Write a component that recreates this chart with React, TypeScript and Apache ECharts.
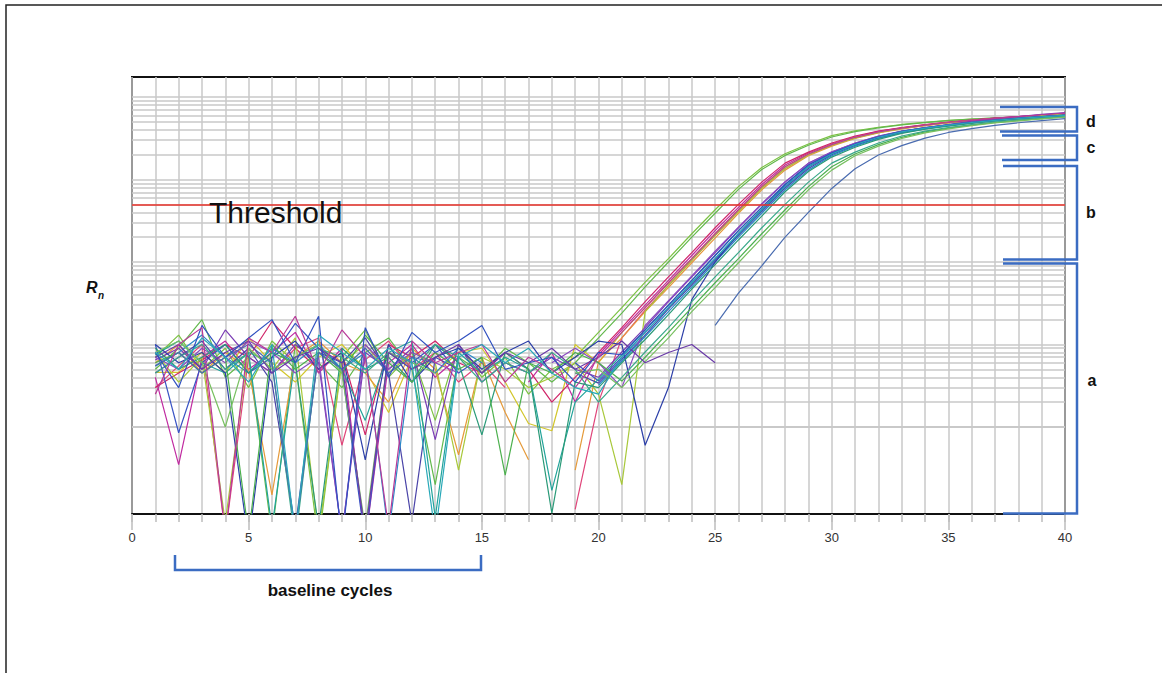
import React, { useEffect, useRef } from "react";
import * as echarts from "echarts";

// ---- data ----
const cycles = [1, 2, 3, 4, 5, 6, 7, 8, 9, 10, 11, 12, 13, 14, 15, 16, 17, 18, 19, 20,
  21, 22, 23, 24, 25, 26, 27, 28, 29, 30, 31, 32, 33, 34, 35, 36, 37, 38, 39, 40];
const xTickLabels = ["0", "5", "10", "15", "20", "25", "30", "35", "40"];
const gridDecades = [0.001, 0.01, 0.1, 1, 10, 100];
const gridMultipliers = [1, 2, 3, 4, 5, 6, 7, 8, 9];
const thresholdValue = 5;
const Y_MIN = 0.00088;
const Y_MAX = 175;
const N = null;

const well01 = [0.07, 0.13, 0.05, 0.09, 0.03, 0.11, 0.06, 0.0004, 0.07, 0.15, 0.04, 0.08, 0.012, 0.1, 0.04, 0.07, 0.025, 0.05,
  0.07, 0.14, 0.28, 0.57, 1.1, 2.2, 4.3, 8.2, 14, 20.5, 27, 34, 39, 43, 46.5, 49.5, 52, 54, 55.5, 56.5, 57.5, 58];
const well02 = [0.05, 0.09, 0.2, 0.04, 0.07, 0.0005, 0.1, 0.06, 0.03, 0.08, 0.12, 0.05, 0.002, 0.07, 0.045, 0.09, 0.06, 0.035,
  0.06, 0.12, 0.24, 0.5, 1.0, 2.0, 3.9, 7.6, 13.2, 19.6, 26, 32.8, 38, 42.3, 46, 49, 51.8, 54, 55.8, 57, 58, 59];
const well03 = [0.04, 0.0035, 0.07, 0.11, 0.05, 0.08, 0.14, 0.045, 0.09, 0.0004, 0.06, 0.1, 0.04, 0.07, N, N, 0.035, 0.08, 0.02,
  0.075, 0.15, 0.3, 0.6, 1.2, 2.4, 4.6, 8.7, 15, 21, 27, 33, 38.3, 42.4, 46, 49.5, 52.5, 55.5, 58, 60.5, 63];
const well04 = [0.03, 0.055, 0.1, 0.0005, 0.07, 0.045, 0.09, 0.12, 0.006, 0.065, 0.11, 0.05, 0.08, 0.035, 0.06, 0.03, N, N, 0.001,
  0.02, 0.12, 0.26, 0.52, 1.05, 2.1, 4.1, 7.9, 13.6, 20, 26, 32, 37.3, 41.6, 45.3, 48.8, 51.8, 54.7, 57.3, 59.7, 62];
const well05 = [0.046, 0.046, 0.08, 0.045, 0.12, 0.06, 0.035, 0.07, 0.1, 0.05, 0.015, 0.07, 0.045, 0.08, 0.09, 0.035, 0.011, 0.009,
  0.1, 0.06, 0.14, 0.28, 0.56, 1.1, 2.2, 4.3, 8.2, 14.3, 20.4, 26.5, 32.5, 37.8, 42, 45.7, 49.1, 52, 54.8, 57.3, 59.6, 61.8];
const well06 = [0.06, 0.1, 0.045, 0.08, 0.05, 0.0015, 0.07, 0.11, 0.06, 0.045, 0.02, 0.09, 0.05, 0.0046, 0.07, 0.015, 0.004, N, 0.003,
  0.062, 0.12, 0.25, 0.49, 0.98, 1.95, 3.9, 7.5, 13, 19.4, 25.4, 31.4, 36.8, 41.2, 45, 48.5, 51.5, 54.4, 57, 59.4, 61.7];
const well07 = [0.03, 0.045, 0.065, 0.1, 0.07, 0.19, 0.09, 0.05, 0.08, 0.008, 0.1, 0.07, 0.11, 0.06, 0.045, 0.08, 0.05, 0.02, 0.04,
  0.08, 0.16, 0.33, 0.66, 1.3, 2.6, 5, 9.3, 15.8, 21.5, 27.7, 33.7, 38.7, 42.7, 46.4, 49.8, 52.6, 55.7, 58.1, 60.5, 63];
const well08 = [0.08, 0.035, 0.07, 0.0007, 0.09, 0.05, 0.12, 0.0005, 0.06, 0.1, 0.045, 0.08, 0.06, 0.003, 0.07, 0.05, 0.03, 0.04, 0.06, 0.025,
  0.002, 0.25, 0.52, 1.05, 2.1, 4.1, 7.9, 13.6, 20, 26, 32, 37.3, 41.6, 45.3, 48.8, 51.8, 54.7, 57.3, 59.7, 62];
const well09 = [0.1, 0.0085, 0.06, 0.1, 0.045, 0.07, 0.18, 0.09, 0.05, 0.0004, 0.08, 0.06, 0.1, 0.045, 0.07, N, N, N, 0.06,
  0.036, 0.07, 0.14, 0.28, 0.56, 1.1, 2.2, 4.3, 8.2, 14.3, 20.4, 26.5, 32.5, 37.8, 42, 45.7, 49.1, 52, 55, 57.6, 60];
const well10 = [0.065, 0.09, 0.05, 0.15, 0.07, 0.045, 0.1, 0.06, 0.0005, 0.08, 0.05, 0.09, 0.007, 0.1, 0.035, 0.06, 0.045, 0.07, 0.05,
  0.04, 0.081, 0.16, 0.33, 0.66, 1.3, 2.6, 5, 9.3, 15.8, 21.5, 27.7, 33.7, 38.7, 42.7, 46.4, 51, 54.5, 58, 61.5, 65];
const well11 = [0.045, 0.07, 0.11, 0.05, 0.09, 0.035, 0.0006, 0.08, 0.06, 0.12, 0.045, 0.0007, 0.07, 0.05, N, N, N, N, 0.045,
  0.034, 0.066, 0.13, 0.27, 0.53, 1.05, 2.1, 4.1, 7.9, 13.6, 20, 26, 32, 37.3, 41.6, 45.3, 48.8, 51.8, 54.7, 57.3, 59.7];
const well12 = [0.075, 0.11, 0.06, 0.045, 0.08, 0.0006, 0.07, 0.1, 0.05, 0.012, 0.08, 0.11, 0.0008, 0.08, 0.045, 0.07, 0.05, 0.0017, 0.02,
  0.038, 0.075, 0.15, 0.3, 0.6, 1.2, 2.4, 4.6, 8.7, 15, 21, 27, 33, 38.3, 42.4, 46, 49.5, 52.5, 55.5, 58, 60.5];
const well13 = [0.055, 0.08, 0.13, 0.07, 0.045, 0.09, 0.06, 0.1, 0.05, 0.08, 0.0005, 0.07, 0.045, 0.09, 0.06, N, N, N, N,
  0.032, 0.063, 0.125, 0.25, 0.5, 1.0, 2.0, 3.9, 7.5, 13, 19.4, 25.4, 31.4, 36.8, 41.2, 45, 48.5, 51.5, 54.4, 57, 59.4];
const well14 = [0.1, 0.06, 0.08, 0.045, 0.0004, 0.07, 0.11, 0.05, 0.08, 0.004, 0.1, 0.035, 0.07, 0.09, 0.05, 0.08, 0.11, 0.045, 0.07,
  0.11, 0.1, 0.006, 0.03, 0.35, 1.0, 2.2, 4.3, 8.2, 14.3, 20.4, 26.5, 32.5, 37.8, 42, 45.7, 49.1, 52, 55, 57.6, 60];
const well15 = [0.07, 0.05, 0.09, 0.06, 0.11, 0.08, 0.045, 0.07, 0.0005, 0.1, 0.05, 0.08, 0.06, 0.045, N, N, N, 0.06, 0.09,
  0.06, 0.03, 0.17, 0.34, 0.68, 1.35, 2.65, 5.1, 9.4, 15.6, 21.7, 27.5, 33.3, 38.4, 42.5, 46, 49.4, 52.4, 55.2, 57.8, 60.2];
const well16 = [0.09, 0.05, 0.07, 0.1, 0.045, 0.08, 0.06, 0.0006, 0.09, 0.05, 0.07, 0.035, 0.1, 0.06, 0.008, 0.08, 0.05, 0.0009, 0.035,
  0.03, 0.06, 0.115, 0.23, 0.47, 0.93, 1.85, 3.6, 7.1, 12.5, 18.7, 24.6, 30.7, 36.2, 40.7, 44.5, 48, 51.2, 54.2, 56.9, 59.3];
const well17 = [0.06, 0.08, 0.045, 0.07, 0.0005, 0.1, 0.05, 0.08, 0.045, 0.13, 0.06, 0.035, 0.08, 0.05, 0.07, 0.0026, 0.06, 0.045, 0.08,
  0.06, 0.036, 0.07, 0.14, 0.28, 0.56, 1.1, 2.2, 4.3, 8.2, 14.3, 20.4, 26.5, 32.5, 37.8, 42, 45.7, 49.1, 52, 54.8, 57.5];
const well18 = [0.045, 0.07, 0.1, 0.05, 0.08, 0.06, 0.0004, 0.09, 0.07, 0.045, 0.08, 0.05, 0.1, 0.07, 0.035, 0.06, 0.045, 0.08, 0.05,
  0.02, 0.04, 0.081, 0.16, 0.33, 0.66, 1.3, 2.6, 5, 9.3, 15.8, 21.5, 27.7, 33.7, 38.7, 42.7, 46.4, 49.8, 52.6, 55.5, 58];
const well19 = [0.08, 0.11, 0.06, 0.01, 0.09, 0.05, 0.07, 0.1, 0.045, 0.0006, 0.08, 0.06, 0.045, N, N, N, N, N, 0.045,
  0.05, 0.03, 0.062, 0.12, 0.25, 0.49, 0.98, 1.95, 3.9, 7.5, 13, 19.4, 25.4, 31.4, 36.8, 41.2, 45, 48.5, 51.5, 54.4, 57];
const well20 = [0.055, 0.08, 0.045, 0.07, 0.1, 0.06, 0.0005, 0.08, 0.05, 0.09, 0.045, 0.07, 0.06, N, N, N, N, N, N, N, N, N, N, N,
  0.17, 0.42, 0.9, 2.0, 4.0, 7.8, 13.5, 19.8, 25.8, 31.8, 37.2, 41.5, 45.3, 48.8, 51.8, 54.8];
const well21 = [0.07, 0.1, 0.05, 0.08, 0.11, 0.045, 0.07, 0.09, 0.06, 0.0005, 0.08, 0.05, 0.07, 0.1, 0.045, 0.08, 0.06, 0.09, 0.05,
  0.07, 0.11, 0.06, 0.08, 0.1, 0.06, N, N, N, N, N, N, N, N, N, N, N, N, N, N, N];
const well22 = [0.08, 0.03, 0.17, 0.07, 0.12, 0.2, 0.06, 0.22, 0.0004, 0.16, 0.04, 0.14, 0.08, 0.11, 0.17, 0.05, 0.06, 0.07, 0.035, 0.08,
  0.075, 0.15, 0.3, 0.6, 1.2, 2.4, 4.6, 8.7, 15, 21, 27, 33, 38.3, 42.4, 46, 49.5, 52.5, 55.5, 58, 60.5];
const well23 = [0.025, 0.1, 0.16, 0.0005, 0.12, 0.08, 0.22, 0.045, 0.15, 0.07, 0.0006, 0.11, 0.06, 0.08, 0.1, 0.035, 0.07, 0.05, 0.03, 0.07,
  0.14, 0.28, 0.56, 1.1, 2.2, 4.3, 8.2, 14.3, 20.4, 26.5, 32.5, 37.8, 42, 45.7, 49.1, 52, 55, 58, 61, 64];
const well24 = [0.08, 0.05, 0.12, 0.07, 0.035, 0.1, 0.0005, 0.13, 0.08, 0.05, 0.09, 0.06, 0.0005, 0.07, 0.1, 0.06, 0.09, 0.045, 0.03, 0.025,
  0.07, 0.14, 0.28, 0.56, 1.1, 2.2, 4.3, 8.2, 14.3, 20.4, 26.5, 32.5, 37.8, 42, 45.7, 49.1, 52, 55, 57.6, 60];

const wells = [well01, well02, well03, well04, well05, well06, well07, well08, well09, well10, well11, well12,
  well13, well14, well15, well16, well17, well18, well19, well20, well21, well22, well23, well24];
const wellColors = ["#7cc243", "#62b84c", "#c02aa0", "#e0457a", "#d2c62c", "#e59a3a", "#d02468", "#a8c83a",
  "#3a54c4", "#7a3cb4", "#4a44a8", "#22a39a", "#2a88c8", "#2c3fa8", "#8a4ac0", "#2a9a78",
  "#4cb04e", "#3aa88a", "#78c060", "#4a6cb0", "#6a3aa8", "#3050c0", "#b83a98", "#28a8b8"];

const BRACKET = "#3b6cc2";
const SANS = "'Liberation Sans', Arial, sans-serif";

export default function App() {
  const ref = useRef<HTMLDivElement>(null);
  useEffect(() => {
    if (!ref.current) return;
    const chart = echarts.init(ref.current, null, { renderer: "svg" });

    const gridValues: number[] = [];
    gridDecades.forEach((d) =>
      gridMultipliers.forEach((m) => {
        const v = +(d * m).toPrecision(3);
        if (v >= Y_MIN && v <= Y_MAX) gridValues.push(v);
      })
    );

    const curveSeries = wells.map((vals, i) => ({
      type: "line",
      name: "well" + (i + 1),
      data: cycles.map((c, j) => [c, vals[j] === null ? "-" : vals[j]]),
      showSymbol: false,
      symbol: "none",
      connectNulls: false,
      clip: true,
      silent: true,
      z: 3,
      lineStyle: { color: wellColors[i], width: 1.2 },
      itemStyle: { color: wellColors[i] },
    }));

    const option: any = {
      animation: false,
      backgroundColor: "#ffffff",
      grid: {
        left: 132, top: 77, width: 933, height: 437,
        show: true, borderColor: "#111", borderWidth: 2, backgroundColor: "#fff",
      },
      xAxis: [
        {
          type: "value", min: 0, max: 40, interval: 1, position: "bottom",
          axisLine: { show: true, lineStyle: { color: "#111", width: 2 } },
          axisTick: { show: true, length: 8, lineStyle: { color: "#bdbdbd", width: 1.5 } },
          axisLabel: { show: false },
          splitLine: { show: true, lineStyle: { color: "#c8c8c8", width: 1.5 } },
        },
        {
          type: "value", min: 0, max: 40, interval: 5, position: "bottom",
          axisLine: { show: false },
          axisTick: { show: true, length: 16, lineStyle: { color: "#bdbdbd", width: 1.5 } },
          axisLabel: {
            show: true, margin: 17, fontSize: 13, color: "#333", fontFamily: SANS,
            formatter: (v: number) => xTickLabels[Math.round(v / 5)] ?? String(v),
          },
          splitLine: { show: false },
        },
      ],
      yAxis: {
        type: "log", logBase: 10, min: Y_MIN, max: Y_MAX,
        axisLine: { show: false }, axisTick: { show: false }, axisLabel: { show: false },
        splitLine: { show: false },
      },
      series: [
        {
          type: "line", name: "grid", data: [], silent: true, z: 1,
          markLine: {
            silent: true, z: 1, symbol: ["none", "none"], animation: false,
            label: { show: false },
            lineStyle: { color: "#c8c8c8", width: 1.5, type: "solid" },
            emphasis: { disabled: true },
            data: gridValues.map((v) => ({ yAxis: v })),
          },
        },
        ...curveSeries,
        {
          type: "line", name: "threshold", data: [], silent: true, z: 6,
          markLine: {
            silent: true, z: 6, symbol: ["none", "none"], animation: false,
            label: { show: false },
            lineStyle: { color: "#e8322a", width: 1.6, type: "solid" },
            emphasis: { disabled: true },
            data: [{ yAxis: thresholdValue }],
          },
        },
      ],
      graphic: [
        { type: "rect", silent: true, z: 100, shape: { x: 6, y: 5, width: 1180, height: 700 },
          style: { fill: "none", stroke: "#222", lineWidth: 1.5 } },
        { type: "text", silent: true, z: 100, x: 209, y: 197,
          style: { text: "Threshold", fontSize: 30, fontFamily: SANS, fill: "#111", verticalAlign: "top" } },
        { type: "text", silent: true, z: 100, x: 86, y: 287,
          style: { text: "R", fontSize: 16, fontStyle: "italic", fontWeight: "bold", fontFamily: SANS, fill: "#111", verticalAlign: "middle" } },
        { type: "text", silent: true, z: 100, x: 98, y: 295,
          style: { text: "n", fontSize: 10, fontStyle: "italic", fontWeight: "bold", fontFamily: SANS, fill: "#111", verticalAlign: "middle" } },
        // right-hand brackets
        { type: "polyline", silent: true, z: 100, shape: { points: [[1000, 107], [1077, 107], [1077, 131.5], [1000, 131.5]] },
          style: { stroke: BRACKET, lineWidth: 2.5, fill: "none" } },
        { type: "polyline", silent: true, z: 100, shape: { points: [[1002, 135.5], [1077, 135.5], [1077, 160], [1002, 160]] },
          style: { stroke: BRACKET, lineWidth: 2.5, fill: "none" } },
        { type: "polyline", silent: true, z: 100, shape: { points: [[1003, 166], [1077, 166], [1077, 259.5], [1003, 259.5]] },
          style: { stroke: BRACKET, lineWidth: 2.5, fill: "none" } },
        { type: "polyline", silent: true, z: 100, shape: { points: [[1003, 263.5], [1077, 263.5], [1077, 513.5], [1003, 513.5]] },
          style: { stroke: BRACKET, lineWidth: 2.5, fill: "none" } },
        { type: "text", silent: true, z: 100, x: 1091, y: 121,
          style: { text: "d", fontSize: 16, fontWeight: "bold", fontFamily: SANS, fill: "#111", align: "center", verticalAlign: "middle" } },
        { type: "text", silent: true, z: 100, x: 1091, y: 147,
          style: { text: "c", fontSize: 16, fontWeight: "bold", fontFamily: SANS, fill: "#111", align: "center", verticalAlign: "middle" } },
        { type: "text", silent: true, z: 100, x: 1091, y: 212,
          style: { text: "b", fontSize: 16, fontWeight: "bold", fontFamily: SANS, fill: "#111", align: "center", verticalAlign: "middle" } },
        { type: "text", silent: true, z: 100, x: 1092, y: 380,
          style: { text: "a", fontSize: 16, fontWeight: "bold", fontFamily: SANS, fill: "#111", align: "center", verticalAlign: "middle" } },
        // baseline bracket
        { type: "polyline", silent: true, z: 100, shape: { points: [[175, 555], [175, 570], [481, 570], [481, 555]] },
          style: { stroke: BRACKET, lineWidth: 2.5, fill: "none" } },
        { type: "text", silent: true, z: 100, x: 330, y: 590,
          style: { text: "baseline cycles", fontSize: 17, fontWeight: "bold", fontFamily: SANS, fill: "#111", align: "center", verticalAlign: "middle" } },
      ],
    };
    chart.setOption(option);
    return () => chart.dispose();
  }, []);

  return (
    <div
      ref={ref}
      style={{ position: "fixed", left: 0, top: 0, width: 1162, height: 673, background: "#fff" }}
    />
  );
}
